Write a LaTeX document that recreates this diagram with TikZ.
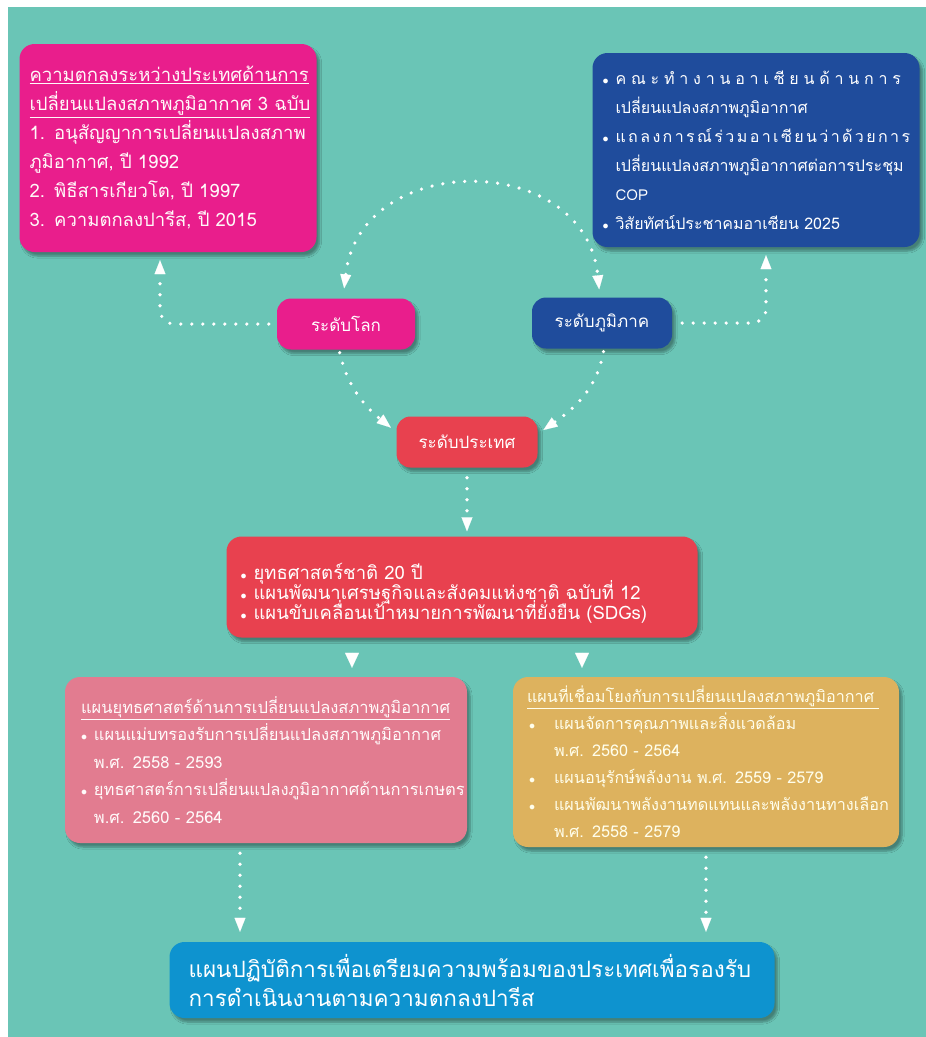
\documentclass[tikz,border=0pt]{standalone}
\usepackage{fontspec}
\setmainfont[Script=Thai]{Loma}
\newfontfamily\thaispa[Script=Thai,LetterSpace=30]{Loma}
\newfontfamily\thaispb[Script=Thai,LetterSpace=15]{Loma}
\usetikzlibrary{positioning, arrows.meta, shapes.geometric, shadows.blur}

\definecolor{bgteal}{HTML}{6AC5B6}
\definecolor{globalpink}{HTML}{E91E8C}
\definecolor{regionblue}{HTML}{1F4C9C}
\definecolor{nationred}{HTML}{E8414F}
\definecolor{planrose}{HTML}{E27C90}
\definecolor{plangold}{HTML}{DDB25E}
\definecolor{actionblue}{HTML}{0E93CF}

% punto elenco e rientro
\newcommand{\sbul}{\makebox[13pt][l]{\scalebox{0.7}{$\bullet$}}}
\newcommand{\sind}{\hspace*{13pt}}
\newcommand{\tightlines}{\lineskiplimit=-20pt\relax}

\begin{document}
\begin{tikzpicture}[>=latex, x=1pt, y=-1pt]
    % Stili per riquadri e frecce
    \tikzset{
        box/.style={
            rectangle,
            rounded corners=15pt,
            draw=none,
            text=white,
            align=left,
            inner sep=0pt,
            blur shadow={shadow xshift=3pt, shadow yshift=-4pt, shadow blur steps=6, shadow opacity=35}
        },
        pill/.style={
            box,
            rounded corners=14pt,
            align=center,
            font={\fontsize{17}{20}\selectfont},
            minimum height=51pt
        },
        dotline/.style={
            white,
            line width=3.6pt,
            line cap=round,
            dash pattern=on 0pt off 11pt,
            rounded corners=14pt,
            -{Triangle[length=14pt,width=11pt,line width=0.1pt]}
        },
        tipline/.style={
            white,
            line width=0.1pt,
            -{Triangle[length=15pt,width=14pt,line width=0.1pt]}
        }
    }

    % Sfondo
    \fill[white] (0,0) rectangle (926,1037);
    \fill[bgteal] (8,7) rectangle (926,1037);
    \useasboundingbox (0,0) rectangle (926,1037);

    % --- Livello globale e regionale ---
    \node[box, fill=globalpink, minimum width=297pt, minimum height=208pt,
          text width=277pt, font={\fontsize{18.5}{29}\selectfont\tightlines}, text=white!90!pink] (globalbox) at (168,148) {%
        \underline{ความตกลงระหว่างประเทศด้านการ}\\
        \underline{เปลี่ยนแปลงสภาพภูมิอากาศ 3 ฉบับ}\\
        1. อนุสัญญาการเปลี่ยนแปลงสภาพ\\
        ภูมิอากาศ, ปี 1992\\
        2. พิธีสารเกียวโต, ปี 1997\\
        3. ความตกลงปารีส, ปี 2015};

    \node[box, fill=regionblue, minimum width=327pt, minimum height=194pt,
          text width=307pt, font={\fontsize{16}{29}\selectfont\tightlines}] (regionbox) at (756,150) {%
        \sbul{\thaispa คณะทำงานอาเซียนด้านการ}\\
        \sind เปลี่ยนแปลงสภาพภูมิอากาศ\\
        \sbul{\thaispb แถลงการณ์ร่วมอาเซียนว่าด้วยการ}\\
        \sind เปลี่ยนแปลงสภาพภูมิอากาศต่อการประชุม\\
        \sind{\fontsize{15}{29}\selectfont COP}\\
        \sbul วิสัยทัศน์ประชาคมอาเซียน 2025};

    \node[pill, fill=globalpink, minimum width=138pt] (world) at (346,324) {ระดับโลก};
    \node[pill, fill=regionblue, minimum width=140pt] (region) at (602,323) {ระดับภูมิภาค};
    \node[pill, fill=nationred, minimum width=141pt] (nation) at (467,442) {ระดับประเทศ};

    % --- Livello nazionale ---
    \node[box, fill=nationred, minimum width=471pt, minimum height=101pt,
          text width=443pt, font={\fontsize{18.5}{20}\selectfont\tightlines}] (policy) at (462,587) {%
        \rule{0pt}{29pt}\sbul ยุทธศาสตร์ชาติ 20 ปี\\
        \sbul แผนพัฒนาเศรษฐกิจและสังคมแห่งชาติ ฉบับที่ 12\\
        \sbul แผนขับเคลื่อนเป้าหมายการพัฒนาที่ยั่งยืน (SDGs)};

    \node[box, fill=planrose, minimum width=402pt, minimum height=166pt,
          text width=370pt, font={\fontsize{16.5}{27.5}\selectfont\tightlines}, text=white!92!pink] (strategy) at (266,760) {%
        \underline{แผนยุทธศาสตร์ด้านการเปลี่ยนแปลงสภาพภูมิอากาศ}\\
        \sbul แผนแม่บทรองรับการเปลี่ยนแปลงสภาพภูมิอากาศ\\
        \sind พ.ศ. 2558 - 2593\\
        \sbul ยุทธศาสตร์การเปลี่ยนแปลงภูมิอากาศด้านการเกษตร\\
        \sind พ.ศ. 2560 - 2564};

    \node[box, fill=plangold, minimum width=386pt, minimum height=170pt,
          text width=358pt, font={\fontsize{16.2}{27}\selectfont\tightlines}, text=white!92!yellow] (linked) at (706,762) {%
        \underline{แผนที่เชื่อมโยงกับการเปลี่ยนแปลงสภาพภูมิอากาศ\ }\\
        \hspace*{2pt}\sbul\hspace*{12pt}แผนจัดการคุณภาพและสิ่งแวดล้อม\\
        \hspace*{27pt}พ.ศ. 2560 - 2564\\
        \hspace*{2pt}\sbul\hspace*{12pt}แผนอนุรักษ์พลังงาน พ.ศ. 2559 - 2579\\
        \hspace*{2pt}\sbul\hspace*{12pt}แผนพัฒนาพลังงานทดแทนและพลังงานทางเลือก\\
        \hspace*{27pt}พ.ศ. 2558 - 2579};

    \node[box, fill=actionblue, minimum width=605pt, minimum height=76pt,
          text width=567pt, font={\fontsize{22.5}{29}\selectfont\tightlines}] (action) at (472,980) {%
        แผนปฏิบัติการเพื่อเตรียมความพร้อมของประเทศเพื่อรองรับ\\
        การดำเนินงานตามความตกลงปารีส};

    % --- Collegamenti tratteggiati ---
    \draw[dotline, shorten <=8pt, shorten >=8pt] (world.west) -| ([xshift=-8pt]globalbox.south);
    \draw[dotline, shorten <=10pt, shorten >=8pt] (region.east) -| ([xshift=10pt]regionbox.south);
    \draw[dotline, {Triangle[length=14pt,width=11pt,line width=0.1pt]}-{Triangle[length=14pt,width=11pt,line width=0.1pt]},
          shorten <=10pt, shorten >=8pt]
        ([xshift=-3pt]world.north) .. controls (360,150) and (585,150) .. ([xshift=-2pt]region.north);
    \draw[dotline, shorten <=3pt, shorten >=7pt] ([xshift=-7pt]world.south) to[out=-77, in=141] ([yshift=10pt]nation.west);
    \draw[dotline, shorten <=3pt, shorten >=7pt] ([xshift=2pt]region.south) to[out=-100, in=35] ([yshift=8pt]nation.east);
    \draw[dotline, shorten <=10pt, shorten >=5pt] (nation.south) -- (policy.north -| nation.south);

    % Punte piene verso i piani
    \draw[tipline, shorten <=15pt, shorten >=9pt] ([xshift=-110pt]policy.south) -- ([xshift=-110pt]policy.south |- strategy.north);
    \draw[tipline, shorten <=15pt, shorten >=9pt] ([xshift=120pt]policy.south) -- ([xshift=120pt]policy.south |- linked.north);

    % Verso il piano d'azione
    \draw[dotline, shorten <=10pt, shorten >=10pt] ([xshift=-26pt]strategy.south) -- ([xshift=-26pt]strategy.south |- action.north);
    \draw[dotline, shorten <=10pt, shorten >=10pt] (linked.south) -- (linked.south |- action.north);
\end{tikzpicture}
\end{document}
